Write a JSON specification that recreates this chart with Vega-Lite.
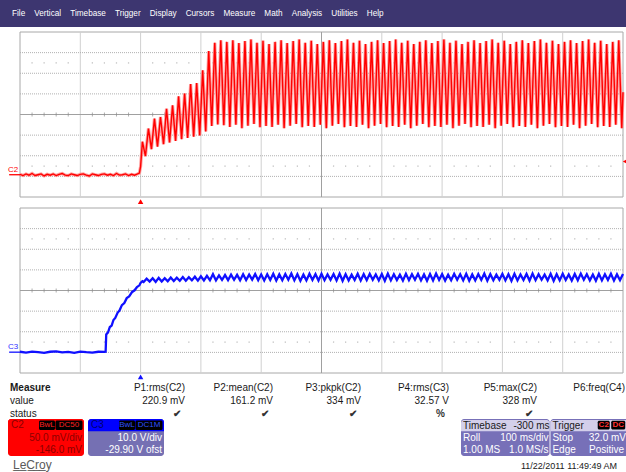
{
"$schema": "https://vega.github.io/schema/vega-lite/v6.json",
"width": 626, "height": 472, "padding": 0, "autosize": {"type": "none"},
"background": "white",
"config": {"view": {"stroke": null}, "font": "Liberation Sans", "text": {"font": "Liberation Sans"}},
"datasets": {
"gx": [{"d":1},{"d":2},{"d":3},{"d":4},{"d":6},{"d":7},{"d":8},{"d":9}],
"gy": [{"d":-3},{"d":-2},{"d":-1},{"d":1},{"d":2},{"d":3}],
"minor": [{"d":0.2},{"d":0.4},{"d":0.6},{"d":0.8},{"d":1.2},{"d":1.4},{"d":1.6},{"d":1.8},{"d":2.2},{"d":2.4},{"d":2.6},{"d":2.8},{"d":3.2},{"d":3.4},{"d":3.6},{"d":3.8},{"d":4.2},{"d":4.4},{"d":4.6},{"d":4.8},{"d":5.2},{"d":5.4},{"d":5.6},{"d":5.8},{"d":6.2},{"d":6.4},{"d":6.6},{"d":6.8},{"d":7.2},{"d":7.4},{"d":7.6},{"d":7.8},{"d":8.2},{"d":8.4},{"d":8.6},{"d":8.8},{"d":9.2},{"d":9.4},{"d":9.6},{"d":9.8}],
"red": [
{"t":-200,"v":1},{"t":-195,"v":-2},{"t":-190,"v":2},{"t":-185,"v":-1},{"t":-180,"v":3},{"t":-175,"v":-2},{"t":-170,"v":0},{"t":-165,"v":2},{"t":-160,"v":-3},{"t":-155,"v":1},
{"t":-150,"v":-1},{"t":-145,"v":2},{"t":-140,"v":-2},{"t":-135,"v":1},{"t":-130,"v":3},{"t":-125,"v":-1},{"t":-120,"v":-2},{"t":-115,"v":2},{"t":-110,"v":0},{"t":-105,"v":-2},
{"t":-100,"v":1},{"t":-95,"v":2},{"t":-90,"v":-1},{"t":-85,"v":-3},{"t":-80,"v":2},{"t":-75,"v":0},{"t":-70,"v":-2},{"t":-65,"v":1},{"t":-60,"v":2},{"t":-55,"v":-1},
{"t":-50,"v":1},{"t":-45,"v":-2},{"t":-40,"v":3},{"t":-35,"v":-1},{"t":-30,"v":0},{"t":-25,"v":2},{"t":-20,"v":-2},{"t":-15,"v":1},{"t":-10,"v":-1},{"t":-5,"v":2},
{"t":-2,"v":4},{"t":0,"v":20},{"t":1.5,"v":50},{"t":3,"v":80},
{"t":8,"v":45},{"t":13,"v":112},{"t":18,"v":62},{"t":23,"v":136},{"t":28,"v":68},{"t":33,"v":140},{"t":38,"v":74},{"t":43,"v":160},{"t":48,"v":78},{"t":53,"v":168},
{"t":58,"v":82},{"t":63,"v":190},{"t":68,"v":86},{"t":73,"v":197},{"t":78,"v":89},{"t":83,"v":220},{"t":88,"v":92},{"t":93,"v":222},{"t":98,"v":95},{"t":103,"v":253},
{"t":108,"v":105},{"t":113,"v":300},{"t":118,"v":118},{"t":123,"v":320},{"t":128,"v":122},{"t":133,"v":326},{"t":138,"v":120},
{"t":143,"v":322},{"t":148,"v":116},{"t":153,"v":326},{"t":158,"v":121},{"t":163,"v":319},{"t":168,"v":113},{"t":173,"v":324},{"t":178,"v":119},{"t":183,"v":328},{"t":188,"v":123},
{"t":193,"v":320},{"t":198,"v":115},{"t":203,"v":325},{"t":208,"v":118},{"t":213,"v":317},{"t":218,"v":116},{"t":223,"v":322},{"t":228,"v":121},{"t":233,"v":326},{"t":238,"v":113},
{"t":243,"v":319},{"t":248,"v":119},{"t":253,"v":324},{"t":258,"v":123},{"t":263,"v":328},{"t":268,"v":115},{"t":273,"v":320},{"t":278,"v":118},{"t":283,"v":325},{"t":288,"v":116},
{"t":293,"v":317},{"t":298,"v":121},{"t":303,"v":322},{"t":308,"v":113},{"t":313,"v":326},{"t":318,"v":119},{"t":323,"v":319},{"t":328,"v":123},{"t":333,"v":324},{"t":338,"v":115},
{"t":343,"v":328},{"t":348,"v":118},{"t":353,"v":320},{"t":358,"v":116},{"t":363,"v":325},{"t":368,"v":121},{"t":373,"v":317},{"t":378,"v":113},{"t":383,"v":322},{"t":388,"v":119},
{"t":393,"v":326},{"t":398,"v":123},{"t":403,"v":319},{"t":408,"v":115},{"t":413,"v":324},{"t":418,"v":118},{"t":423,"v":328},{"t":428,"v":116},{"t":433,"v":320},{"t":438,"v":121},
{"t":443,"v":325},{"t":448,"v":113},{"t":453,"v":317},{"t":458,"v":119},{"t":463,"v":322},{"t":468,"v":123},{"t":473,"v":326},{"t":478,"v":115},{"t":483,"v":319},{"t":488,"v":118},
{"t":493,"v":324},{"t":498,"v":116},{"t":503,"v":328},{"t":508,"v":121},{"t":513,"v":320},{"t":518,"v":113},{"t":523,"v":325},{"t":528,"v":119},{"t":533,"v":317},{"t":538,"v":123},
{"t":543,"v":322},{"t":548,"v":115},{"t":553,"v":326},{"t":558,"v":118},{"t":563,"v":319},{"t":568,"v":116},{"t":573,"v":324},{"t":578,"v":121},{"t":583,"v":328},{"t":588,"v":113},
{"t":593,"v":320},{"t":598,"v":119},{"t":603,"v":325},{"t":608,"v":123},{"t":613,"v":317},{"t":618,"v":115},{"t":623,"v":322},{"t":628,"v":118},{"t":633,"v":326},{"t":638,"v":116},
{"t":643,"v":319},{"t":648,"v":121},{"t":653,"v":324},{"t":658,"v":113},{"t":663,"v":328},{"t":668,"v":119},{"t":673,"v":320},{"t":678,"v":123},{"t":683,"v":325},{"t":688,"v":115},
{"t":693,"v":317},{"t":698,"v":118},{"t":703,"v":322},{"t":708,"v":116},{"t":713,"v":326},{"t":718,"v":121},{"t":723,"v":319},{"t":728,"v":113},{"t":733,"v":324},{"t":738,"v":119},
{"t":743,"v":328},{"t":748,"v":123},{"t":753,"v":320},{"t":758,"v":115},{"t":763,"v":325},{"t":768,"v":118},{"t":773,"v":317},{"t":778,"v":116},{"t":783,"v":322},{"t":788,"v":121},
{"t":793,"v":326},{"t":798,"v":113},{"t":800,"v":200}
],
"blue": [
{"t":-200,"v":0.2},{"t":-190,"v":-0.2},{"t":-180,"v":0.3},{"t":-170,"v":0.0},{"t":-160,"v":-0.3},{"t":-150,"v":0.2},{"t":-140,"v":0.4},{"t":-130,"v":-0.1},{"t":-120,"v":0.1},{"t":-110,"v":-0.3},
{"t":-100,"v":0.3},{"t":-90,"v":0.0},{"t":-80,"v":-0.2},{"t":-70,"v":0.2},{"t":-60,"v":0.1},{"t":-58,"v":0.2},
{"t":-57,"v":8.6},{"t":-54,"v":9.6},{"t":-51,"v":12.2},{"t":-48,"v":12.9},{"t":-45,"v":15.6},{"t":-42,"v":16.6},{"t":-38,"v":19.2},{"t":-35,"v":20.2},{"t":-31,"v":22.8},{"t":-27,"v":23.8},
{"t":-23,"v":26.2},{"t":-19,"v":27.0},{"t":-14,"v":29.2},{"t":-10,"v":30.0},{"t":-6,"v":31.6},{"t":-2,"v":32.4},{"t":0,"v":33.6},{"t":3,"v":34.4},
{"t":5,"v":34.0},{"t":10,"v":35.6},{"t":15,"v":34.2},{"t":20,"v":35.8},{"t":25,"v":34.1},{"t":30,"v":36.0},{"t":35,"v":34.3},{"t":40,"v":35.9},{"t":45,"v":34.4},{"t":50,"v":36.2},
{"t":55,"v":34.5},{"t":60,"v":36.1},{"t":65,"v":34.6},{"t":70,"v":36.4},{"t":75,"v":34.6},{"t":80,"v":36.3},{"t":85,"v":34.8},{"t":90,"v":36.6},{"t":95,"v":34.7},{"t":100,"v":36.8},
{"t":105,"v":34.8},{"t":110,"v":37.0},{"t":115,"v":34.9},{"t":120,"v":37.8},{"t":125,"v":34.8},{"t":130,"v":37.2},{"t":135,"v":35.0},{"t":140,"v":37.4},{"t":145,"v":34.9},{"t":150,"v":37.6},
{"t":155,"v":35.1},{"t":160,"v":37.5},{"t":165,"v":34.9},{"t":170,"v":37.8},{"t":175,"v":35.0},{"t":180,"v":37.6},{"t":185,"v":35.2},{"t":190,"v":37.9},{"t":195,"v":34.9},{"t":200,"v":37.7},
{"t":205,"v":34.8},{"t":210,"v":37.8},{"t":215,"v":35.0},{"t":220,"v":38.0},{"t":225,"v":34.7},{"t":230,"v":37.7},{"t":235,"v":34.9},{"t":240,"v":37.9},{"t":245,"v":35.1},{"t":250,"v":38.1},
{"t":255,"v":34.8},{"t":260,"v":37.8},{"t":265,"v":34.6},{"t":270,"v":37.6},{"t":275,"v":34.8},{"t":280,"v":38.0},{"t":285,"v":35.0},{"t":290,"v":37.8},{"t":295,"v":34.7},{"t":300,"v":38.0},
{"t":305,"v":34.9},{"t":310,"v":37.7},{"t":315,"v":35.1},{"t":320,"v":37.9},{"t":325,"v":34.8},{"t":330,"v":38.1},{"t":335,"v":34.6},{"t":340,"v":37.8},{"t":345,"v":34.8},{"t":350,"v":37.6},
{"t":355,"v":35.0},{"t":360,"v":38.0},{"t":365,"v":34.7},{"t":370,"v":37.8},{"t":375,"v":34.9},{"t":380,"v":38.0},{"t":385,"v":35.1},{"t":390,"v":37.7},{"t":395,"v":34.8},{"t":400,"v":37.9},
{"t":405,"v":34.6},{"t":410,"v":38.1},{"t":415,"v":34.8},{"t":420,"v":37.8},{"t":425,"v":35.0},{"t":430,"v":37.6},{"t":435,"v":34.7},{"t":440,"v":38.0},{"t":445,"v":34.9},{"t":450,"v":37.8},
{"t":455,"v":35.1},{"t":460,"v":38.0},{"t":465,"v":34.8},{"t":470,"v":37.7},{"t":475,"v":34.6},{"t":480,"v":37.9},{"t":485,"v":34.8},{"t":490,"v":38.1},{"t":495,"v":35.0},{"t":500,"v":37.8},
{"t":505,"v":34.7},{"t":510,"v":37.6},{"t":515,"v":34.9},{"t":520,"v":38.0},{"t":525,"v":35.1},{"t":530,"v":37.8},{"t":535,"v":34.8},{"t":540,"v":38.0},{"t":545,"v":34.6},{"t":550,"v":37.7},
{"t":555,"v":34.8},{"t":560,"v":37.9},{"t":565,"v":35.0},{"t":570,"v":38.1},{"t":575,"v":34.7},{"t":580,"v":37.8},{"t":585,"v":34.9},{"t":590,"v":37.6},{"t":595,"v":35.1},{"t":600,"v":38.0},
{"t":605,"v":34.8},{"t":610,"v":37.8},{"t":615,"v":34.6},{"t":620,"v":38.0},{"t":625,"v":34.8},{"t":630,"v":37.7},{"t":635,"v":35.0},{"t":640,"v":37.9},{"t":645,"v":34.7},{"t":650,"v":38.1},
{"t":655,"v":34.9},{"t":660,"v":37.8},{"t":665,"v":35.1},{"t":670,"v":37.6},{"t":675,"v":34.8},{"t":680,"v":38.0},{"t":685,"v":34.6},{"t":690,"v":37.8},{"t":695,"v":34.8},{"t":700,"v":38.0},
{"t":705,"v":35.0},{"t":710,"v":37.7},{"t":715,"v":34.7},{"t":720,"v":37.9},{"t":725,"v":34.9},{"t":730,"v":38.1},{"t":735,"v":35.1},{"t":740,"v":37.8},{"t":745,"v":34.8},{"t":750,"v":37.6},
{"t":755,"v":34.6},{"t":760,"v":38.0},{"t":765,"v":34.8},{"t":770,"v":37.8},{"t":775,"v":35.0},{"t":780,"v":38.0},{"t":785,"v":34.7},{"t":790,"v":37.7},{"t":795,"v":34.9},{"t":800,"v":37.9}
],
"table": [
{"r":"h","c":"L","s":"Measure"},{"r":"v","c":"L","s":"value"},{"r":"s","c":"L","s":"status"},
{"r":"h","c":"P1","s":"P1:rms(C2)"},{"r":"h","c":"P2","s":"P2:mean(C2)"},{"r":"h","c":"P3","s":"P3:pkpk(C2)"},{"r":"h","c":"P4","s":"P4:rms(C3)"},{"r":"h","c":"P5","s":"P5:max(C2)"},{"r":"h","c":"P6","s":"P6:freq(C4)"},
{"r":"v","c":"P1","s":"220.9 mV"},{"r":"v","c":"P2","s":"161.2 mV"},{"r":"v","c":"P3","s":"334 mV"},{"r":"v","c":"P4","s":"32.57 V"},{"r":"v","c":"P5","s":"328 mV"},
{"r":"s","c":"P1","s":"✔"},{"r":"s","c":"P2","s":"✔"},{"r":"s","c":"P3","s":"✔"},{"r":"s","c":"P4","s":"%"},{"r":"s","c":"P5","s":"✔"},
{"r":"f","c":"L","s":"L̲e̲C̲r̲o̲y̲"},{"r":"f","c":"P6","s":"11/22/2011 11:49:49 AM"}
]
},
"layer": [
{
 "data": {"values": [{"bar": "menu", "s": "File\u00a0\u00a0\u00a0\u00a0Vertical\u00a0\u00a0\u00a0\u00a0Timebase\u00a0\u00a0\u00a0\u00a0Trigger\u00a0\u00a0\u00a0\u00a0Display\u00a0\u00a0\u00a0\u00a0Cursors\u00a0\u00a0\u00a0\u00a0Measure\u00a0\u00a0\u00a0\u00a0Math\u00a0\u00a0\u00a0\u00a0Analysis\u00a0\u00a0\u00a0\u00a0Utilities\u00a0\u00a0\u00a0\u00a0Help"}]},
 "layer": [
  {"mark": {"type": "rect", "color": "#3d3670"},
   "encoding": {"x": {"field": "bar", "type": "nominal", "scale": {"type": "band", "range": [0, 626], "paddingInner": 0, "paddingOuter": 0}, "axis": null},
                "y": {"field": "bar", "type": "nominal", "scale": {"type": "band", "range": [0, 27], "paddingInner": 0, "paddingOuter": 0}, "axis": null}}},
  {"mark": {"type": "text", "color": "white", "fontSize": 8.2, "align": "left", "baseline": "middle", "dx": 12},
   "encoding": {"x": {"field": "bar", "type": "nominal", "bandPosition": 0}, "y": {"field": "bar", "type": "nominal", "bandPosition": 0.5}, "text": {"field": "s"}}}
 ]
},
{
 "layer": [
  {"data": {"values": [{}]}, "mark": {"type": "rect", "fill": "#ffffff", "stroke": "#a8a8a8", "strokeWidth": 1},
   "encoding": {"x": {"datum": 0, "type": "quantitative", "scale": {"domain": [0, 10], "range": [20, 623], "nice": false, "zero": false}, "axis": null}, "x2": {"datum": 10},
                "y": {"datum": -4, "type": "quantitative", "scale": {"domain": [-4, 4], "range": [197, 32], "nice": false, "zero": false}, "axis": null}, "y2": {"datum": 4}}},
  {"data": {"name": "gx"}, "mark": {"type": "rule", "color": "#d0d0d0"}, "encoding": {"x": {"field": "d", "type": "quantitative"}, "y": {"datum": -4}, "y2": {"datum": 4}}},
  {"data": {"name": "gy"}, "mark": {"type": "rule", "color": "#b0b0b0", "strokeDash": [1, 1]}, "encoding": {"y": {"field": "d", "type": "quantitative"}, "x": {"datum": 0}, "x2": {"datum": 10}}},
  {"data": {"values": [{}]}, "mark": {"type": "rule", "color": "#a0a0a0"}, "encoding": {"x": {"datum": 5}, "y": {"datum": -4}, "y2": {"datum": 4}}},
  {"data": {"values": [{}]}, "mark": {"type": "rule", "color": "#a0a0a0"}, "encoding": {"y": {"datum": 0}, "x": {"datum": 0}, "x2": {"datum": 10}}},
  {"data": {"name": "minor"}, "mark": {"type": "tick", "orient": "vertical", "color": "#8c8c8c", "size": 4, "thickness": 1}, "encoding": {"x": {"field": "d", "type": "quantitative"}, "y": {"datum": 0}}},
  {"data": {"name": "minor"}, "mark": {"type": "square", "color": "#a0a0a0", "size": 1.5, "filled": true}, "encoding": {"x": {"field": "d", "type": "quantitative"}, "y": {"datum": 2.5}}},
  {"data": {"name": "minor"}, "mark": {"type": "square", "color": "#a0a0a0", "size": 1.5, "filled": true}, "encoding": {"x": {"field": "d", "type": "quantitative"}, "y": {"datum": -2.5}}}
 ]
},
{
 "layer": [
  {"data": {"values": [{}]}, "mark": {"type": "rect", "fill": "#ffffff", "stroke": "#a8a8a8", "strokeWidth": 1},
   "encoding": {"x": {"datum": 0, "type": "quantitative", "scale": {"domain": [0, 10], "range": [20, 623], "nice": false, "zero": false}, "axis": null}, "x2": {"datum": 10},
                "y": {"datum": -4, "type": "quantitative", "scale": {"domain": [-4, 4], "range": [373, 208], "nice": false, "zero": false}, "axis": null}, "y2": {"datum": 4}}},
  {"data": {"name": "gx"}, "mark": {"type": "rule", "color": "#d0d0d0"}, "encoding": {"x": {"field": "d", "type": "quantitative"}, "y": {"datum": -4}, "y2": {"datum": 4}}},
  {"data": {"name": "gy"}, "mark": {"type": "rule", "color": "#b0b0b0", "strokeDash": [1, 1]}, "encoding": {"y": {"field": "d", "type": "quantitative"}, "x": {"datum": 0}, "x2": {"datum": 10}}},
  {"data": {"values": [{}]}, "mark": {"type": "rule", "color": "#a0a0a0"}, "encoding": {"x": {"datum": 5}, "y": {"datum": -4}, "y2": {"datum": 4}}},
  {"data": {"values": [{}]}, "mark": {"type": "rule", "color": "#a0a0a0"}, "encoding": {"y": {"datum": 0}, "x": {"datum": 0}, "x2": {"datum": 10}}},
  {"data": {"name": "minor"}, "mark": {"type": "tick", "orient": "vertical", "color": "#8c8c8c", "size": 4, "thickness": 1}, "encoding": {"x": {"field": "d", "type": "quantitative"}, "y": {"datum": 0}}},
  {"data": {"name": "minor"}, "mark": {"type": "square", "color": "#a0a0a0", "size": 1.5, "filled": true}, "encoding": {"x": {"field": "d", "type": "quantitative"}, "y": {"datum": 2.5}}},
  {"data": {"name": "minor"}, "mark": {"type": "square", "color": "#a0a0a0", "size": 1.5, "filled": true}, "encoding": {"x": {"field": "d", "type": "quantitative"}, "y": {"datum": -2.5}}}
 ]
},
{
 "layer": [
  {"data": {"name": "red"}, "mark": {"type": "line", "color": "#ff8a8a", "strokeWidth": 3.2, "opacity": 0.8},
   "encoding": {"x": {"field": "t", "type": "quantitative", "scale": {"domain": [-200, 800], "range": [20, 623], "nice": false, "zero": false}, "axis": null},
                "y": {"field": "v", "type": "quantitative", "scale": {"domain": [-54, 346], "range": [197, 32], "nice": false, "zero": false}, "axis": null}}},
  {"data": {"name": "red"}, "mark": {"type": "line", "color": "#ff0000", "strokeWidth": 1.4},
   "encoding": {"x": {"field": "t", "type": "quantitative"}, "y": {"field": "v", "type": "quantitative"}}},
  {"data": {"values": [{"ch": "C2"}]}, "mark": {"type": "text", "color": "#ff0000", "fontSize": 8, "align": "right", "baseline": "bottom", "dy": -1},
   "encoding": {"x": {"datum": -203}, "y": {"datum": 0}, "text": {"field": "ch"}}},
  {"data": {"values": [{}]}, "mark": {"type": "rule", "color": "#ff0000", "strokeWidth": 1.3}, "encoding": {"x": {"datum": -218}, "x2": {"datum": -200}, "y": {"datum": 0}}},
  {"data": {"values": [{}]}, "mark": {"type": "point", "shape": "triangle-up", "filled": true, "color": "#ff0000", "size": 30, "opacity": 1}, "encoding": {"x": {"datum": 0}, "y": {"datum": -65}}},
  {"data": {"values": [{}]}, "mark": {"type": "point", "shape": "triangle-left", "filled": true, "color": "#ff0000", "size": 20, "opacity": 1}, "encoding": {"x": {"datum": 803}, "y": {"datum": 32}}}
 ]
},
{
 "layer": [
  {"data": {"name": "blue"}, "mark": {"type": "line", "color": "#1010ff", "strokeWidth": 2.3},
   "encoding": {"x": {"field": "t", "type": "quantitative", "scale": {"domain": [-200, 800], "range": [20, 623], "nice": false, "zero": false}, "axis": null},
                "y": {"field": "v", "type": "quantitative", "scale": {"domain": [-10.1, 69.9], "range": [373, 208], "nice": false, "zero": false}, "axis": null}}},
  {"data": {"values": [{"ch": "C3"}]}, "mark": {"type": "text", "color": "#3030ff", "fontSize": 8, "align": "right", "baseline": "bottom", "dy": -1},
   "encoding": {"x": {"datum": -203}, "y": {"datum": 0}, "text": {"field": "ch"}}},
  {"data": {"values": [{}]}, "mark": {"type": "rule", "color": "#1010ff", "strokeWidth": 1.3}, "encoding": {"x": {"datum": -218}, "x2": {"datum": -200}, "y": {"datum": 0}}},
  {"data": {"values": [{}]}, "mark": {"type": "point", "shape": "triangle-up", "filled": true, "color": "#1010ff", "size": 30, "opacity": 1}, "encoding": {"x": {"datum": 0}, "y": {"datum": -12}}}
 ]
},
{
 "data": {"name": "table"},
 "layer": [
  {"transform": [{"filter": "datum.c === 'L' && datum.r === 'h'"}],
   "mark": {"type": "text", "align": "left", "baseline": "middle", "fontSize": 10, "color": "#1a1a1a", "dx": 1, "fontWeight": "bold"},
   "encoding": {"x": {"field": "c", "type": "nominal", "bandPosition": 0, "scale": {"type": "band", "domain": ["L", "P1", "P2", "P3", "P4", "P5", "P6"], "range": [9, 625], "paddingInner": 0, "paddingOuter": 0}, "axis": null},
                "y": {"field": "r", "type": "nominal", "bandPosition": 0.5, "scale": {"type": "band", "domain": ["h", "v", "s", "b1", "b2", "b3", "f"], "range": [382, 472], "paddingInner": 0, "paddingOuter": 0}, "axis": null},
                "text": {"field": "s"}}},
  {"transform": [{"filter": "datum.c === 'L' && (datum.r === 'v' || datum.r === 's')"}],
   "mark": {"type": "text", "align": "left", "baseline": "middle", "fontSize": 10, "color": "#1a1a1a", "dx": 1},
   "encoding": {"x": {"field": "c", "type": "nominal", "bandPosition": 0}, "y": {"field": "r", "type": "nominal", "bandPosition": 0.5}, "text": {"field": "s"}}},
  {"transform": [{"filter": "datum.c !== 'L' && (datum.r === 'h' || datum.r === 'v')"}],
   "mark": {"type": "text", "align": "right", "baseline": "middle", "fontSize": 10, "color": "#1a1a1a"},
   "encoding": {"x": {"field": "c", "type": "nominal", "bandPosition": 1}, "y": {"field": "r", "type": "nominal", "bandPosition": 0.5}, "text": {"field": "s"}}},
  {"transform": [{"filter": "datum.c !== 'L' && datum.r === 's'"}],
   "mark": {"type": "text", "align": "right", "baseline": "middle", "fontSize": 10, "color": "#333333", "dx": -4, "fontWeight": "bold"},
   "encoding": {"x": {"field": "c", "type": "nominal", "bandPosition": 1}, "y": {"field": "r", "type": "nominal", "bandPosition": 0.5}, "text": {"field": "s"}}},
  {"transform": [{"filter": "datum.c === 'L' && datum.r === 'f'"}],
   "mark": {"type": "text", "align": "left", "baseline": "middle", "fontSize": 12, "color": "#5a5a5a", "dx": 4, "dy": -1},
   "encoding": {"x": {"field": "c", "type": "nominal", "bandPosition": 0}, "y": {"field": "r", "type": "nominal", "bandPosition": 0.5}, "text": {"field": "s"}}},
  {"transform": [{"filter": "datum.c === 'P6' && datum.r === 'f'"}],
   "mark": {"type": "text", "align": "right", "baseline": "middle", "fontSize": 9, "color": "#1a1a1a", "dx": -8},
   "encoding": {"x": {"field": "c", "type": "nominal", "bandPosition": 1}, "y": {"field": "r", "type": "nominal", "bandPosition": 0.5}, "text": {"field": "s"}}}
 ]
},
{
 "data": {"values": [{"box": "C2", "name": "C2", "bw": "BwL", "cpl": "DC50", "vdiv": "50.0 mV/div", "ofs": "-146.0 mV"}, {"box": "C3", "name": "C3", "bw": "BwL", "cpl": "DC1M", "vdiv": "10.0 V/div", "ofs": "-29.90 V ofst"}]},
 "resolve": {"scale": {"color": "independent"}},
 "layer": [
  {"mark": {"type": "rect", "cornerRadius": 3},
   "encoding": {"x": {"field": "box", "type": "nominal", "scale": {"type": "band", "domain": ["C2", "C3"], "range": [8, 164], "paddingInner": 0.05, "paddingOuter": 0}, "axis": null},
                "y": {"datum": 0, "type": "quantitative", "scale": {"domain": [0, 3], "range": [419, 456], "nice": false, "zero": false}, "axis": null}, "y2": {"datum": 3},
                "color": {"field": "box", "type": "nominal", "scale": {"domain": ["C2", "C3"], "range": ["#ff0000", "#7570b3"]}, "legend": null}}},
  {"mark": {"type": "rect", "cornerRadiusTopLeft": 3, "cornerRadiusTopRight": 3},
   "encoding": {"x": {"field": "box", "type": "nominal"}, "y": {"datum": 0}, "y2": {"datum": 1},
                "color": {"field": "box", "type": "nominal", "scale": {"domain": ["C2", "C3"], "range": ["#ff0000", "#0000ff"]}, "legend": null}}},
  {"mark": {"type": "bar", "color": "#000000", "width": 16, "xOffset": 1, "cornerRadius": 1.5},
   "encoding": {"x": {"field": "box", "type": "nominal"}, "y": {"datum": 0.12}, "y2": {"datum": 0.9}}},
  {"mark": {"type": "bar", "color": "#000000", "width": 27, "xOffset": 23, "cornerRadius": 1.5},
   "encoding": {"x": {"field": "box", "type": "nominal"}, "y": {"datum": 0.12}, "y2": {"datum": 0.9}}},
  {"mark": {"type": "text", "align": "left", "baseline": "middle", "fontSize": 10, "dx": 3},
   "encoding": {"x": {"field": "box", "type": "nominal", "bandPosition": 0}, "y": {"datum": 0.5}, "text": {"field": "name"},
                "color": {"field": "box", "type": "nominal", "scale": {"domain": ["C2", "C3"], "range": ["#8a0000", "#00006e"]}, "legend": null}}},
  {"mark": {"type": "text", "align": "center", "baseline": "middle", "fontSize": 8, "dx": 1},
   "encoding": {"x": {"field": "box", "type": "nominal", "bandPosition": 0.5}, "y": {"datum": 0.52}, "text": {"field": "bw"},
                "color": {"field": "box", "type": "nominal", "scale": {"domain": ["C2", "C3"], "range": ["#ff2020", "#3050ff"]}, "legend": null}}},
  {"mark": {"type": "text", "align": "center", "baseline": "middle", "fontSize": 8, "dx": 23},
   "encoding": {"x": {"field": "box", "type": "nominal", "bandPosition": 0.5}, "y": {"datum": 0.52}, "text": {"field": "cpl"},
                "color": {"field": "box", "type": "nominal", "scale": {"domain": ["C2", "C3"], "range": ["#ff2020", "#3050ff"]}, "legend": null}}},
  {"mark": {"type": "text", "align": "right", "baseline": "middle", "fontSize": 10, "dx": -2},
   "encoding": {"x": {"field": "box", "type": "nominal", "bandPosition": 1}, "y": {"datum": 1.5}, "text": {"field": "vdiv"},
                "color": {"field": "box", "type": "nominal", "scale": {"domain": ["C2", "C3"], "range": ["#8c0000", "#ffffff"]}, "legend": null}}},
  {"mark": {"type": "text", "align": "right", "baseline": "middle", "fontSize": 10, "dx": -2},
   "encoding": {"x": {"field": "box", "type": "nominal", "bandPosition": 1}, "y": {"datum": 2.5}, "text": {"field": "ofs"},
                "color": {"field": "box", "type": "nominal", "scale": {"domain": ["C2", "C3"], "range": ["#8c0000", "#ffffff"]}, "legend": null}}}
 ]
},
{
 "data": {"values": [{"box": "TB", "name": "Timebase", "hv": "-300 ms", "a1": "Roll", "b1": "100 ms/div", "a2": "1.00 MS", "b2": "1.0 MS/s", "k1": "", "k2": ""}, {"box": "TR", "name": "Trigger", "hv": "", "a1": "Stop", "b1": "32.0 mV", "a2": "Edge", "b2": "Positive", "k1": "C2", "k2": "DC"}]},
 "layer": [
  {"mark": {"type": "rect", "cornerRadius": 3, "color": "#7770b8"},
   "encoding": {"x": {"field": "box", "type": "nominal", "scale": {"type": "band", "domain": ["TB", "TR"], "range": [461, 639], "paddingInner": 0.01, "paddingOuter": 0}, "axis": null},
                "y": {"datum": 0, "type": "quantitative", "scale": {"domain": [0, 3], "range": [419, 456], "nice": false, "zero": false}, "axis": null}, "y2": {"datum": 3}}},
  {"mark": {"type": "rect", "cornerRadiusTopLeft": 3, "cornerRadiusTopRight": 3, "color": "#d3cfea"},
   "encoding": {"x": {"field": "box", "type": "nominal"}, "y": {"datum": 0.08}, "y2": {"datum": 1}}},
  {"transform": [{"filter": "datum.box === 'TR'"}], "mark": {"type": "bar", "color": "#000000", "width": 12, "xOffset": 9, "cornerRadius": 1.5},
   "encoding": {"x": {"field": "box", "type": "nominal"}, "y": {"datum": 0.15}, "y2": {"datum": 0.85}}},
  {"transform": [{"filter": "datum.box === 'TR'"}], "mark": {"type": "bar", "color": "#000000", "width": 14, "xOffset": 23.5, "cornerRadius": 1.5},
   "encoding": {"x": {"field": "box", "type": "nominal"}, "y": {"datum": 0.15}, "y2": {"datum": 0.85}}},
  {"transform": [{"filter": "datum.box === 'TR'"}], "mark": {"type": "text", "align": "center", "baseline": "middle", "fontSize": 8, "color": "#ff3030", "dx": 9, "fontWeight": "bold"},
   "encoding": {"x": {"field": "box", "type": "nominal", "bandPosition": 0.5}, "y": {"datum": 0.52}, "text": {"field": "k1"}}},
  {"transform": [{"filter": "datum.box === 'TR'"}], "mark": {"type": "text", "align": "center", "baseline": "middle", "fontSize": 8, "color": "#ff3030", "dx": 23.5, "fontWeight": "bold"},
   "encoding": {"x": {"field": "box", "type": "nominal", "bandPosition": 0.5}, "y": {"datum": 0.52}, "text": {"field": "k2"}}},
  {"mark": {"type": "text", "align": "left", "baseline": "middle", "fontSize": 10, "color": "#1a1a1a", "dx": 2},
   "encoding": {"x": {"field": "box", "type": "nominal", "bandPosition": 0}, "y": {"datum": 0.55}, "text": {"field": "name"}}},
  {"mark": {"type": "text", "align": "left", "baseline": "middle", "fontSize": 10, "color": "#ffffff", "dx": 2},
   "encoding": {"x": {"field": "box", "type": "nominal", "bandPosition": 0}, "y": {"datum": 1.55}, "text": {"field": "a1"}}},
  {"mark": {"type": "text", "align": "left", "baseline": "middle", "fontSize": 10, "color": "#ffffff", "dx": 2},
   "encoding": {"x": {"field": "box", "type": "nominal", "bandPosition": 0}, "y": {"datum": 2.5}, "text": {"field": "a2"}}},
  {"transform": [{"filter": "datum.box === 'TB'"}], "mark": {"type": "text", "align": "right", "baseline": "middle", "fontSize": 10, "color": "#1a1a1a", "dx": 0},
   "encoding": {"x": {"field": "box", "type": "nominal", "bandPosition": 1}, "y": {"datum": 0.55}, "text": {"field": "hv"}}},
  {"transform": [{"filter": "datum.box === 'TB'"}], "mark": {"type": "text", "align": "right", "baseline": "middle", "fontSize": 10, "color": "#ffffff", "dx": -1},
   "encoding": {"x": {"field": "box", "type": "nominal", "bandPosition": 1}, "y": {"datum": 1.55}, "text": {"field": "b1"}}},
  {"transform": [{"filter": "datum.box === 'TB'"}], "mark": {"type": "text", "align": "right", "baseline": "middle", "fontSize": 10, "color": "#ffffff", "dx": -1},
   "encoding": {"x": {"field": "box", "type": "nominal", "bandPosition": 1}, "y": {"datum": 2.5}, "text": {"field": "b2"}}},
  {"transform": [{"filter": "datum.box === 'TR'"}], "mark": {"type": "text", "align": "right", "baseline": "middle", "fontSize": 10, "color": "#ffffff", "dx": -13},
   "encoding": {"x": {"field": "box", "type": "nominal", "bandPosition": 1}, "y": {"datum": 1.55}, "text": {"field": "b1"}}},
  {"transform": [{"filter": "datum.box === 'TR'"}], "mark": {"type": "text", "align": "right", "baseline": "middle", "fontSize": 10, "color": "#ffffff", "dx": -15},
   "encoding": {"x": {"field": "box", "type": "nominal", "bandPosition": 1}, "y": {"datum": 2.5}, "text": {"field": "b2"}}}
 ]
}
],
"resolve": {"scale": {"x": "independent", "y": "independent", "color": "independent"}}
}
